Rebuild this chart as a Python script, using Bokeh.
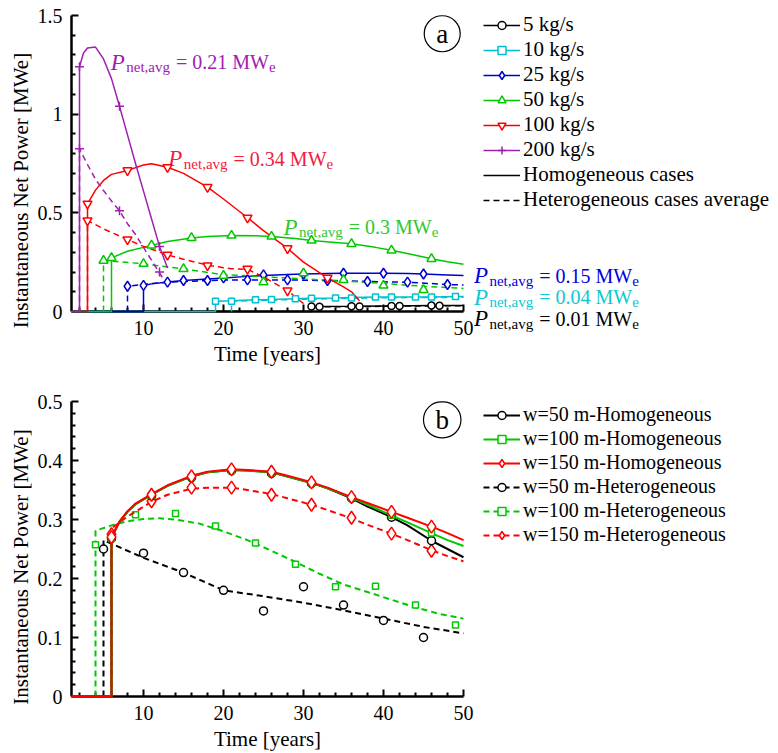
from bokeh.plotting import figure
from bokeh.layouts import column
from bokeh.models import Range1d, FixedTicker, Legend, LegendItem, Label
from bokeh.embed import file_html
from bokeh.resources import INLINE

# ---------------- panel (a) data ----------------
flow_labels = ["5 kg/s", "10 kg/s", "25 kg/s", "50 kg/s", "100 kg/s", "200 kg/s"]

a5_hom_t = [1, 31, 31, 36, 41, 46, 50]
a5_hom_v = [0, 0, 0.025, 0.026, 0.028, 0.030, 0.030]
a5_hom_mt = [31, 36, 41, 46]
a5_hom_mv = [0.025, 0.026, 0.028, 0.030]
a5_het_t = [32, 32, 37, 42, 47, 50]
a5_het_v = [0, 0.024, 0.025, 0.027, 0.029, 0.029]
a5_het_mt = [32, 37, 42, 47]
a5_het_mv = [0.024, 0.025, 0.028, 0.029]

a10_hom_t = [1, 19, 19, 21, 24, 26, 29, 31, 34, 36, 39, 41, 44, 46, 49, 50]
a10_hom_v = [0, 0, 0.052, 0.054, 0.059, 0.061, 0.065, 0.067, 0.069, 0.071, 0.073, 0.073, 0.074, 0.074, 0.076, 0.076]
a10_hom_mt = [19, 24, 29, 34, 39, 44, 49]
a10_hom_mv = [0.052, 0.059, 0.065, 0.069, 0.073, 0.074, 0.076]
a10_het_t = [21, 21, 26, 31, 36, 41, 46, 50]
a10_het_v = [0, 0.052, 0.058, 0.063, 0.067, 0.070, 0.071, 0.072]
a10_het_mt = [21, 26, 31, 36, 41, 46]
a10_het_mv = [0.052, 0.061, 0.067, 0.068, 0.073, 0.073]

a25_hom_t = [1, 10, 10, 11, 13, 15, 18, 20, 23, 25, 28, 30, 33, 35, 38, 40, 43, 45, 48, 50]
a25_hom_v = [0, 0, 0.132, 0.140, 0.149, 0.157, 0.165, 0.170, 0.178, 0.183, 0.188, 0.190, 0.193, 0.194, 0.194, 0.194, 0.192, 0.190, 0.185, 0.182]
a25_hom_mt = [10, 15, 20, 25, 30, 35, 40, 45]
a25_hom_mv = [0.132, 0.157, 0.170, 0.186, 0.190, 0.194, 0.194, 0.190]
a25_het_t = [8, 8, 10, 13, 15, 18, 20, 23, 28, 33, 38, 43, 48, 50]
a25_het_v = [0, 0.128, 0.138, 0.148, 0.152, 0.157, 0.159, 0.160, 0.160, 0.157, 0.152, 0.148, 0.137, 0.134]
a25_het_mt = [8, 13, 18, 23, 28, 33, 38, 43, 48]
a25_het_mv = [0.128, 0.149, 0.157, 0.160, 0.160, 0.157, 0.152, 0.149, 0.137]

a50_hom_t = [1, 6, 6, 8, 11, 13, 16, 18, 21, 24, 26, 29, 31, 34, 36, 39, 41, 44, 46, 48, 50]
a50_hom_v = [0, 0, 0.272, 0.305, 0.335, 0.355, 0.373, 0.380, 0.385, 0.384, 0.380, 0.370, 0.360, 0.350, 0.343, 0.325, 0.310, 0.285, 0.267, 0.252, 0.240]
a50_hom_mt = [6, 11, 16, 21, 26, 31, 36, 41, 46]
a50_hom_mv = [0.272, 0.335, 0.373, 0.385, 0.380, 0.360, 0.343, 0.310, 0.267]
a50_het_t = [5, 5, 10, 15, 20, 22.5, 25, 30, 35, 40, 45, 50]
a50_het_v = [0, 0.258, 0.242, 0.216, 0.186, 0.182, 0.176, 0.165, 0.155, 0.142, 0.128, 0.117]
a50_het_mt = [5, 10, 15, 20, 25, 30, 35, 40, 45]
a50_het_mv = [0.258, 0.242, 0.216, 0.182, 0.149, 0.194, 0.160, 0.132, 0.110]

a100_hom_t = [1, 3, 3, 4, 5, 6, 8, 10, 11, 13, 15, 18, 20, 23, 25, 28, 30, 33, 35, 36, 37]
a100_hom_v = [0, 0, 0.546, 0.615, 0.664, 0.695, 0.715, 0.742, 0.749, 0.731, 0.700, 0.630, 0.570, 0.475, 0.410, 0.320, 0.250, 0.170, 0.125, 0.100, 0.055]
a100_hom_mt = [3, 8, 13, 18, 23, 28, 33]
a100_hom_mv = [0.546, 0.715, 0.731, 0.630, 0.475, 0.320, 0.170]
a100_het_t = [3, 3, 4, 5, 6, 8, 10, 13, 15, 18, 20, 21, 23, 25, 28, 30]
a100_het_v = [0, 0.461, 0.440, 0.419, 0.400, 0.365, 0.330, 0.287, 0.265, 0.235, 0.222, 0.217, 0.214, 0.175, 0.106, 0.040]
a100_het_mt = [3, 8, 13, 18, 23, 28]
a100_het_mv = [0.461, 0.365, 0.287, 0.233, 0.216, 0.106]

a200_hom_t = [1, 2, 2, 2.5, 3, 4, 5, 6, 7, 8, 9, 10, 11, 12, 13]
a200_hom_v = [0, 0, 1.240, 1.310, 1.335, 1.340, 1.280, 1.180, 1.040, 0.895, 0.750, 0.610, 0.470, 0.330, 0.220]
a200_hom_mt = [2, 7, 12]
a200_hom_mv = [1.240, 1.040, 0.330]
a200_het_t = [2, 2, 3, 4, 5, 6, 7, 8, 9, 10, 11, 12, 12.4]
a200_het_v = [0, 0.825, 0.745, 0.670, 0.613, 0.560, 0.510, 0.445, 0.390, 0.325, 0.260, 0.195, 0.170]
a200_het_mt = [2, 7, 12]
a200_het_mv = [0.825, 0.510, 0.200]

pnet_avg = ["0.01", "0.04", "0.15", "0.3", "0.34", "0.21"]

# ---------------- panel (b) data ----------------
width_labels = ["w=50 m", "w=100 m", "w=150 m"]

b_hom_t = [1, 6, 6, 7, 8, 9, 11, 13, 16, 18, 21, 23, 26, 28, 31, 33, 36, 38, 41, 43, 46, 48, 50]
b50_hom_v = [0, 0, 0.270, 0.296, 0.313, 0.326, 0.342, 0.357, 0.373, 0.380, 0.384, 0.383, 0.380, 0.373, 0.362, 0.353, 0.336, 0.322, 0.304, 0.290, 0.264, 0.250, 0.236]
b100_hom_v = [0, 0, 0.270, 0.296, 0.313, 0.326, 0.342, 0.357, 0.373, 0.380, 0.384, 0.383, 0.380, 0.373, 0.362, 0.353, 0.337, 0.325, 0.307, 0.295, 0.277, 0.265, 0.255]
b150_hom_v = [0, 0, 0.270, 0.297, 0.314, 0.327, 0.343, 0.358, 0.374, 0.381, 0.385, 0.384, 0.381, 0.374, 0.363, 0.354, 0.338, 0.328, 0.313, 0.303, 0.288, 0.277, 0.265]
b_hom_mt = [6, 11, 16, 21, 26, 31, 36, 41, 46]
b50_hom_mv = [0.268, 0.340, 0.371, 0.383, 0.378, 0.361, 0.336, 0.304, 0.264]
b100_hom_mv = [0.268, 0.341, 0.372, 0.383, 0.379, 0.362, 0.337, 0.307, 0.277]
b150_hom_mv = [0.270, 0.342, 0.373, 0.385, 0.381, 0.363, 0.338, 0.313, 0.288]

b50_het_t = [5, 5, 10, 15, 20, 25, 30, 35, 40, 45, 50]
b50_het_v = [0, 0.265, 0.235, 0.210, 0.180, 0.170, 0.159, 0.146, 0.132, 0.118, 0.107]
b50_het_mt = [5, 10, 15, 20, 25, 30, 35, 40, 45]
b50_het_mv = [0.250, 0.243, 0.210, 0.180, 0.145, 0.186, 0.155, 0.129, 0.100]

b100_het_t = [4, 4, 6, 8, 10, 12, 14, 17, 20, 23, 26, 29, 32, 35, 38, 41, 44, 47, 50]
b100_het_v = [0, 0.281, 0.290, 0.297, 0.301, 0.302, 0.300, 0.293, 0.280, 0.265, 0.247, 0.228, 0.208, 0.190, 0.177, 0.164, 0.151, 0.140, 0.132]
b100_het_mt = [4, 9, 14, 19, 24, 29, 34, 39, 44, 49]
b100_het_mv = [0.257, 0.308, 0.310, 0.289, 0.260, 0.224, 0.186, 0.187, 0.155, 0.121]

b150_het_t = [6, 6, 8, 11, 13, 16, 18, 21, 23, 26, 28, 31, 33, 36, 38, 41, 43, 46, 48, 50]
b150_het_v = [0, 0.285, 0.305, 0.330, 0.342, 0.352, 0.354, 0.354, 0.350, 0.343, 0.336, 0.325, 0.316, 0.302, 0.291, 0.276, 0.265, 0.248, 0.238, 0.229]
b150_het_mt = [6, 11, 16, 21, 26, 31, 36, 41, 46]
b150_het_mv = [0.275, 0.331, 0.354, 0.354, 0.342, 0.325, 0.303, 0.276, 0.247]

x_major = [10, 20, 30, 40, 50]
x_minor = [2, 4, 6, 8, 12, 14, 16, 18, 22, 24, 26, 28, 32, 34, 36, 38, 42, 44, 46, 48]
ya_major = [0, 0.5, 1, 1.5]
ya_minor = [0.1, 0.2, 0.3, 0.4, 0.6, 0.7, 0.8, 0.9, 1.1, 1.2, 1.3, 1.4]
yb_major = [0, 0.1, 0.2, 0.3, 0.4, 0.5]
yb_minor = [0.02, 0.04, 0.06, 0.08, 0.12, 0.14, 0.16, 0.18, 0.22, 0.24, 0.26, 0.28,
            0.32, 0.34, 0.36, 0.38, 0.42, 0.44, 0.46, 0.48]

FONT = "Liberation Serif"
PX_PER_YEAR = 8.0
FRAME_W = 707


def make_fig(frame_h, zero_px, px_per_unit, y_top, y_major, y_minor):
    # frame fills the whole figure height; the time axis is pinned at zero power
    p = figure(output_backend="svg", toolbar_location=None,
               frame_width=FRAME_W, frame_height=frame_h,
               min_border_left=71, min_border_right=0,
               min_border_top=0, min_border_bottom=0,
               x_range=Range1d(1, 1 + FRAME_W / PX_PER_YEAR),
               y_range=Range1d(-(frame_h - zero_px) / px_per_unit, zero_px / px_per_unit))
    p.outline_line_color = None
    p.grid.visible = False
    p.background_fill_color = "white"
    p.border_fill_color = "white"
    p.xaxis.bounds = (1, 50)
    p.yaxis.bounds = (0, y_top)
    p.xaxis.fixed_location = 0
    p.xaxis.ticker = FixedTicker(ticks=x_major, minor_ticks=x_minor)
    p.yaxis.ticker = FixedTicker(ticks=y_major, minor_ticks=y_minor)
    p.yaxis.major_label_overrides = {t: f"{t:g}" for t in y_major}
    p.xaxis.axis_label = "Time [years]"
    p.yaxis.axis_label = "Instantaneous Net Power [MWe]"
    for ax in (p.xaxis[0], p.yaxis[0]):
        ax.axis_line_width = 2.5
        ax.axis_line_color = "black"
        ax.major_tick_in = 7
        ax.major_tick_out = 0
        ax.minor_tick_in = 4
        ax.minor_tick_out = 0
        ax.major_tick_line_width = 2
        ax.minor_tick_line_width = 2
        ax.major_label_text_font = FONT
        ax.major_label_text_font_size = "20px"
        ax.major_label_text_color = "black"
        ax.major_label_standoff = 9
        ax.axis_label_text_font = FONT
        ax.axis_label_text_font_size = "21px"
        ax.axis_label_text_font_style = "normal"
        ax.axis_label_text_color = "black"
    p.xaxis.axis_label_standoff = 4
    p.yaxis.axis_label_standoff = 2
    return p


def add_line(p, t, v, color, lw, dash=None):
    kw = dict(line_color=color, line_width=lw, level="overlay")
    if dash:
        kw["line_dash"] = dash
    return p.line(t, v, **kw)


def add_markers(p, t, v, color, marker, size):
    return p.scatter(t, v, marker=marker, size=size, line_color=color,
                     fill_color="white", line_width=1.5, level="overlay")


TIMES = {' ': 250, ',': 250, '.': 250, '=': 564, 'M': 889, 'W': 944, 'e': 444,
         'n': 500, 't': 278, 'a': 444, 'v': 500, 'g': 500, 'P': 611}
for d in "0123456789":
    TIMES[d] = 500


def tw(s, size):
    return sum(TIMES[c] for c in s) * size / 1000.0


def pnet_label(p, x, y, val, color):
    parts = [("P", 23, "italic", 0, 1.5),
             ("net,avg", 15, "normal", -5, 6),
             ("= " + val + " MW", 20, "normal", 0, 0),
             ("e", 15, "normal", -5, 0)]
    off = 0.0
    for txt, size, style, dy, extra in parts:
        p.add_layout(Label(x=x, y=y, x_offset=off, y_offset=dy, text=txt,
                           text_font=FONT, text_font_size=f"{size}px",
                           text_font_style=style, text_color=color,
                           text_align="left", text_baseline="alphabetic"))
        off += tw(txt, size) + extra


def panel_tag(p, x, y, letter):
    p.add_layout(Label(x=x, y=y, text=letter, text_font=FONT, text_font_size="27px",
                       text_align="center", text_baseline="middle", text_color="black",
                       border_line_color="black", border_line_width=1.2,
                       border_radius=18,
                       padding=dict(left=12, right=12, top=3, bottom=3)))


def style_legend(lg, x, y, spacing, size):
    lg.location = (x, y)
    lg.padding = 0
    lg.margin = 0
    lg.spacing = spacing
    lg.border_line_color = None
    lg.background_fill_alpha = 0
    lg.glyph_width = 37
    lg.glyph_height = 20
    lg.label_height = 20
    lg.label_standoff = 3
    lg.label_text_font = FONT
    lg.label_text_font_size = size
    lg.label_text_color = "black"


# ---------------- panel (a) ----------------
pa = make_fig(380, 311, 296 / 1.5, 1.5, ya_major, ya_minor)
colors_a = ["#000000", "#00c0d0", "#0000cd", "#00c800", "#ff0000", "#a020b0"]
text_colors_a = ["#000000", "#10c8d0", "#0000dd", "#30c830", "#f0203c", "#a020b0"]
markers_a = ["circle", "square", "diamond", "triangle", "inverted_triangle", "cross"]
msize_a = [7, 6, 10, 9, 9, 9]

data_a = [
    (a5_hom_t, a5_hom_v, a5_hom_mt, a5_hom_mv, a5_het_t, a5_het_v, a5_het_mt, a5_het_mv),
    (a10_hom_t, a10_hom_v, a10_hom_mt, a10_hom_mv, a10_het_t, a10_het_v, a10_het_mt, a10_het_mv),
    (a25_hom_t, a25_hom_v, a25_hom_mt, a25_hom_mv, a25_het_t, a25_het_v, a25_het_mt, a25_het_mv),
    (a50_hom_t, a50_hom_v, a50_hom_mt, a50_hom_mv, a50_het_t, a50_het_v, a50_het_mt, a50_het_mv),
    (a100_hom_t, a100_hom_v, a100_hom_mt, a100_hom_mv, a100_het_t, a100_het_v, a100_het_mt, a100_het_mv),
    (a200_hom_t, a200_hom_v, a200_hom_mt, a200_hom_mv, a200_het_t, a200_het_v, a200_het_mt, a200_het_mv),
]

hom_lines, het_lines = [], []
for d, c in zip(data_a, colors_a):
    het_lines.append(add_line(pa, d[4], d[5], c, 1.5, "6 4"))
    hom_lines.append(add_line(pa, d[0], d[1], c, 1.5))
mark_rs = []
for d, c, m, s in zip(data_a, colors_a, markers_a, msize_a):
    add_markers(pa, d[6], d[7], c, m, s)
    mark_rs.append(add_markers(pa, d[2], d[3], c, m, s))

items_a = [LegendItem(label=lab, renderers=[lr, mr])
           for lab, lr, mr in zip(flow_labels, hom_lines, mark_rs)]
items_a.append(LegendItem(label="Homogeneous cases", renderers=[hom_lines[0]]))
items_a.append(LegendItem(label="Heterogeneous cases average", renderers=[het_lines[0]]))
leg_a = Legend(items=items_a)
style_legend(leg_a, 412, 168, 0, "21px")
pa.add_layout(leg_a)

label_pos_a = [(51.3, -0.037), (51.3, 0.0725), (51.3, 0.182), (27.5, 0.427), (13.1, 0.775), (5.9, 1.262)]
for (lx, ly), val, tc in zip(label_pos_a, pnet_avg, text_colors_a):
    pnet_label(pa, lx, ly, val, tc)
panel_tag(pa, 47.34, 1.4075, "a")

# ---------------- panel (b) ----------------
pb = make_fig(373, 316, 590, 0.5, yb_major, yb_minor)
colors_b = ["#000000", "#00c800", "#ff0000"]
markers_b = ["circle", "square", "diamond"]
msize_b = [8, 6, 13]

hom_b = [(b_hom_t, b50_hom_v, b_hom_mt, b50_hom_mv),
         (b_hom_t, b100_hom_v, b_hom_mt, b100_hom_mv),
         (b_hom_t, b150_hom_v, b_hom_mt, b150_hom_mv)]
het_b = [(b50_het_t, b50_het_v, b50_het_mt, b50_het_mv),
         (b100_het_t, b100_het_v, b100_het_mt, b100_het_mv),
         (b150_het_t, b150_het_v, b150_het_mt, b150_het_mv)]

items_hom, items_het = [], []
for (t, v, mt, mv), c, m, s, lab in zip(het_b, colors_b, markers_b, msize_b, width_labels):
    r = add_line(pb, t, v, c, 2, "6 4")
    mr = add_markers(pb, mt, mv, c, m, s)
    items_het.append(LegendItem(label=lab + "-Heterogeneous", renderers=[r, mr]))
for (t, v, mt, mv), c, m, s, lab in zip(hom_b, colors_b, markers_b, msize_b, width_labels):
    r = add_line(pb, t, v, c, 2)
    mr = add_markers(pb, mt, mv, c, m, s)
    items_hom.append(LegendItem(label=lab + "-Homogeneous", renderers=[r, mr]))

leg_b = Legend(items=items_hom + items_het)
style_legend(leg_b, 412, 207, 1, "20px")
pb.add_layout(leg_b)
panel_tag(pb, 47.34, 0.469, "b")

layout = column(pa, pb)
open("out.html", "w").write(file_html(layout, INLINE))
